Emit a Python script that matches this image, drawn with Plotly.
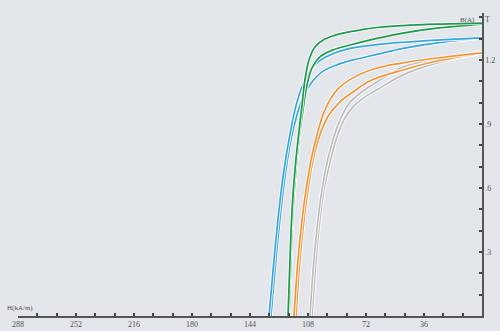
import plotly.graph_objects as go

# Demagnetization curves: H (kA/m) vs B (T)
green1_H = [120.4, 119.2, 117.9, 116.1, 114.2, 111.7, 109.9, 107.4, 103.7, 97.5, 86.3, 75.7, 65.2, 49.0, 27.9, 0]
green1_B = [0.0, 0.264, 0.498, 0.685, 0.826, 0.989, 1.107, 1.200, 1.261, 1.298, 1.326, 1.340, 1.352, 1.361, 1.368, 1.373]

green2_H = [119.8, 118.6, 117.3, 115.5, 113.6, 111.1, 108.6, 105.5, 100.6, 92.5, 81.9, 65.2, 49.0, 27.9, 0]
green2_B = [0.0, 0.264, 0.498, 0.685, 0.826, 0.966, 1.083, 1.163, 1.214, 1.247, 1.270, 1.301, 1.326, 1.349, 1.368]

blue1_H = [132.2, 129.1, 126.0, 122.9, 119.8, 116.1, 112.4, 108.0, 102.4, 94.4, 83.8, 65.2, 49.0, 27.9, 0]
blue1_B = [0.0, 0.264, 0.498, 0.685, 0.826, 0.966, 1.060, 1.130, 1.186, 1.223, 1.251, 1.272, 1.283, 1.293, 1.303]

blue2_H = [131.0, 127.9, 124.8, 121.7, 118.6, 114.8, 110.5, 105.5, 99.3, 90.0, 80.1, 65.2, 49.0, 27.9, 0]
blue2_B = [0.0, 0.264, 0.498, 0.685, 0.826, 0.943, 1.036, 1.097, 1.144, 1.177, 1.200, 1.226, 1.254, 1.280, 1.303]

orange1_H = [116.7, 114.2, 111.7, 109.2, 106.1, 102.4, 97.5, 90.0, 80.1, 65.2, 49.0, 27.9, 0]
orange1_B = [0.0, 0.264, 0.451, 0.592, 0.732, 0.849, 0.966, 1.060, 1.116, 1.162, 1.186, 1.209, 1.233]

orange2_H = [115.5, 113.0, 110.5, 108.0, 104.9, 100.6, 95.0, 88.1, 80.1, 69.5, 49.0, 27.9, 0]
orange2_B = [0.0, 0.264, 0.451, 0.592, 0.732, 0.849, 0.943, 1.004, 1.050, 1.102, 1.153, 1.195, 1.233]

gray1_H = [106.8, 104.3, 101.8, 99.3, 96.2, 92.5, 88.1, 83.2, 75.7, 65.2, 49.0, 27.9, 0]
gray1_B = [0.0, 0.264, 0.451, 0.592, 0.718, 0.826, 0.919, 0.989, 1.045, 1.097, 1.167, 1.205, 1.233]

gray2_H = [105.5, 103.0, 100.6, 98.1, 94.4, 90.6, 85.7, 80.1, 72.6, 63.3, 49.0, 27.9, 0]
gray2_B = [0.0, 0.264, 0.451, 0.592, 0.718, 0.826, 0.919, 0.980, 1.027, 1.069, 1.130, 1.186, 1.233]

x_tick_vals = list(range(0, 289, 12))
x_tick_text = [str(v) if (v % 36 == 0 and v != 0) else "" for v in x_tick_vals]
y_tick_vals = [round(0.1 * i, 1) for i in range(0, 15)]
y_label_map = {0.3: ".3", 0.6: ".6", 0.9: ".9", 1.2: "1.2"}
y_tick_text = [y_label_map.get(v, "") for v in y_tick_vals]

curves = [
    (gray2_H, gray2_B, "#bdbdbd"),
    (gray1_H, gray1_B, "#bdbdbd"),
    (orange2_H, orange2_B, "#ef963a"),
    (orange1_H, orange1_B, "#ef963a"),
    (blue2_H, blue2_B, "#3aa6da"),
    (blue1_H, blue1_B, "#3aa6da"),
    (green2_H, green2_B, "#1f9a4b"),
    (green1_H, green1_B, "#1f9a4b"),
]

fig = go.Figure()
for h, b, c in curves:
    fig.add_trace(go.Scatter(x=h, y=b, mode="lines",
                             line=dict(color="rgba(255,255,255,0.85)", width=3.6, shape="spline", smoothing=1.0),
                             hoverinfo="skip", showlegend=False))
    fig.add_trace(go.Scatter(x=h, y=b, mode="lines",
                             line=dict(color=c, width=1.7, shape="spline", smoothing=1.0),
                             hoverinfo="skip", showlegend=False))

font = dict(family="Liberation Serif, DejaVu Serif, serif", size=8, color="#555555")

fig.update_layout(
    width=500, height=331,
    margin=dict(l=18, r=18, t=13, b=14.5, autoexpand=False),
    paper_bgcolor="#e3e6ea", plot_bgcolor="#e3e6ea",
    showlegend=False,
    font=font,
    xaxis=dict(range=[288, 0], tickvals=x_tick_vals, ticktext=x_tick_text, automargin=False,
               showgrid=False, zeroline=False, showline=True, linecolor="#555555", linewidth=1.5,
               ticks="inside", ticklen=3, tickwidth=2, tickcolor="#444444", tickfont=font),
    yaxis=dict(range=[0, 1.42], side="right", tickvals=y_tick_vals, ticktext=y_tick_text, automargin=False,
               showgrid=False, zeroline=False, showline=True, linecolor="#555555", linewidth=1.5,
               ticks="inside", ticklen=3, tickwidth=2, tickcolor="#444444", tickfont=font),
    annotations=[
        dict(text="H(kA/m)", xref="paper", yref="paper", x=-0.028, y=0.025, xanchor="left", yanchor="middle",
             showarrow=False, font=dict(family=font["family"], size=7, color="#555555")),
        dict(text="B(A)", xref="paper", yref="paper", x=0.968, y=0.977, xanchor="center", yanchor="middle",
             showarrow=False, font=dict(family=font["family"], size=7, color="#555555")),
        dict(text="T", xref="paper", yref="paper", x=1.011, y=0.977, xanchor="center", yanchor="middle",
             showarrow=False, font=dict(family=font["family"], size=8, color="#555555")),
    ],
)

fig.write_html("out.html")
